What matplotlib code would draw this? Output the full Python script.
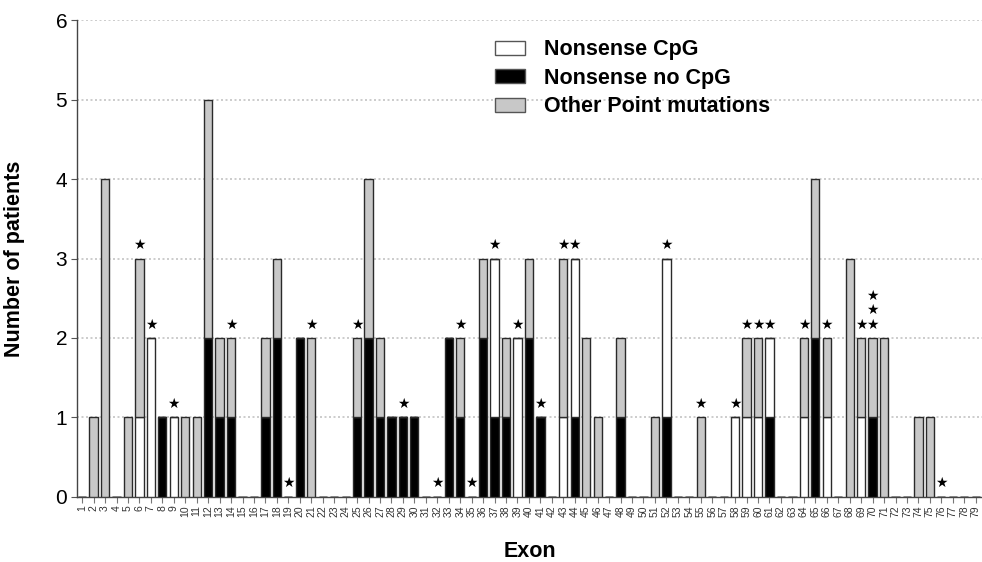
import matplotlib
matplotlib.use("Agg")
import matplotlib.pyplot as plt
import numpy as np
from matplotlib.patches import Patch

plt.rcParams['font.family'] = ['Liberation Sans', 'DejaVu Sans']

exons = list(range(1, 80))

nonsense_no_cpg = [
    0, 0, 0, 0, 0, 0, 0, 1, 0, 0,
    0, 2, 1, 1, 0, 0, 1, 2, 0, 2,
    0, 0, 0, 0, 1, 2, 1, 1, 1, 1,
    0, 0, 2, 1, 0, 2, 1, 1, 0, 2,
    1, 0, 0, 1, 0, 0, 0, 1, 0, 0,
    0, 1, 0, 0, 0, 0, 0, 0, 0, 0,
    1, 0, 0, 0, 2, 0, 0, 0, 0, 1,
    0, 0, 0, 0, 0, 0, 0, 0, 0]

nonsense_cpg = [
    0, 0, 0, 0, 0, 1, 2, 0, 1, 0,
    0, 0, 0, 0, 0, 0, 0, 0, 0, 0,
    0, 0, 0, 0, 0, 0, 0, 0, 0, 0,
    0, 0, 0, 0, 0, 0, 2, 0, 2, 0,
    0, 0, 1, 2, 0, 0, 0, 0, 0, 0,
    0, 2, 0, 0, 0, 0, 0, 1, 1, 1,
    1, 0, 0, 1, 0, 1, 0, 0, 1, 0,
    0, 0, 0, 0, 0, 0, 0, 0, 0]

other_point = [
    0, 1, 4, 0, 1, 2, 0, 0, 0, 1,
    1, 3, 1, 1, 0, 0, 1, 1, 0, 0,
    2, 0, 0, 0, 1, 2, 1, 0, 0, 0,
    0, 0, 0, 1, 0, 1, 0, 1, 0, 1,
    0, 0, 2, 0, 2, 1, 0, 1, 0, 0,
    1, 0, 0, 0, 1, 0, 0, 0, 1, 1,
    0, 0, 0, 1, 2, 1, 0, 3, 1, 1,
    2, 0, 0, 1, 1, 0, 0, 0, 0]

stars = [
    0, 0, 0, 0, 0, 1, 1, 0, 1, 0,
    0, 0, 0, 1, 0, 0, 0, 0, 1, 0,
    1, 0, 0, 0, 1, 0, 0, 0, 1, 0,
    0, 1, 0, 1, 1, 0, 1, 0, 1, 0,
    1, 0, 1, 1, 0, 0, 0, 0, 0, 0,
    0, 1, 0, 0, 1, 0, 0, 1, 1, 1,
    1, 0, 0, 1, 0, 1, 0, 0, 1, 3,
    0, 0, 0, 0, 0, 1, 0, 0, 0]

labels = ["Nonsense CpG", "Nonsense no CpG", "Other Point mutations"]
c_white, c_black, c_gray = "#ffffff", "#000000", "#c8c8c8"
edge = "#2a2a2a"

fig = plt.figure(figsize=(9.82, 5.62), dpi=100)
ax = fig.add_axes([0.0784, 0.116, 1.0 - 0.0784, 0.964 - 0.116])

x = np.array(exons)
b1 = np.array(nonsense_no_cpg)
b2 = np.array(nonsense_cpg)
b3 = np.array(other_point)
w = 0.72
ax.bar(x, b1, w, color=c_black, edgecolor=edge, linewidth=1.0, zorder=3)
ax.bar(x, b2, w, bottom=b1, color=c_white, edgecolor=edge, linewidth=1.0, zorder=3)
ax.bar(x, b3, w, bottom=b1 + b2, color=c_gray, edgecolor=edge, linewidth=1.0, zorder=3)

tot = b1 + b2 + b3
for xi, t, s in zip(x, tot, stars):
    for k in range(s):
        ax.text(xi, t + 0.17 + 0.18 * k, "\u2605", ha="center", va="center",
                fontsize=10, color="black", family="DejaVu Sans", zorder=4)

ax.set_xlim(0.55, 79.55)
ax.set_ylim(0, 6)
ax.set_yticks(range(0, 7))
ax.set_xticks(x)
ax.set_xticklabels([str(e) for e in exons], rotation=90, fontsize=7.5, color="#333333")
ax.tick_params(axis="x", length=4, width=0.8, color="#777777", pad=2)
ax.tick_params(axis="y", labelsize=15, length=4, width=0.8, color="#555555", pad=3)

for yv in range(1, 7):
    ax.axhline(yv, color="#c4c4c4", linestyle=(0, (1.2, 1.5)), linewidth=1.2, zorder=1)

for sp in ["top", "right"]:
    ax.spines[sp].set_visible(False)
ax.spines["left"].set_color("#444444")
ax.spines["bottom"].set_color("#444444")
ax.spines["left"].set_linewidth(1.0)
ax.spines["bottom"].set_linewidth(1.0)

ax.set_ylabel("Number of patients", fontsize=15.5, fontweight="bold", labelpad=22)
ax.set_xlabel("Exon", fontsize=15.5, fontweight="bold", labelpad=17)

handles = [Patch(facecolor=c_white, edgecolor="#555555", linewidth=1.0),
           Patch(facecolor=c_black, edgecolor="#555555", linewidth=1.0),
           Patch(facecolor=c_gray, edgecolor="#555555", linewidth=1.0)]
leg = fig.legend(handles, labels, loc="upper left", bbox_to_anchor=(0.504, 0.93),
                 frameon=False, prop={"size": 15.5, "weight": "bold"},
                 handlelength=1.4, handleheight=0.6, handletextpad=0.9,
                 labelspacing=0.35, borderpad=0, borderaxespad=0)

fig.savefig("out.png", dpi=100)
